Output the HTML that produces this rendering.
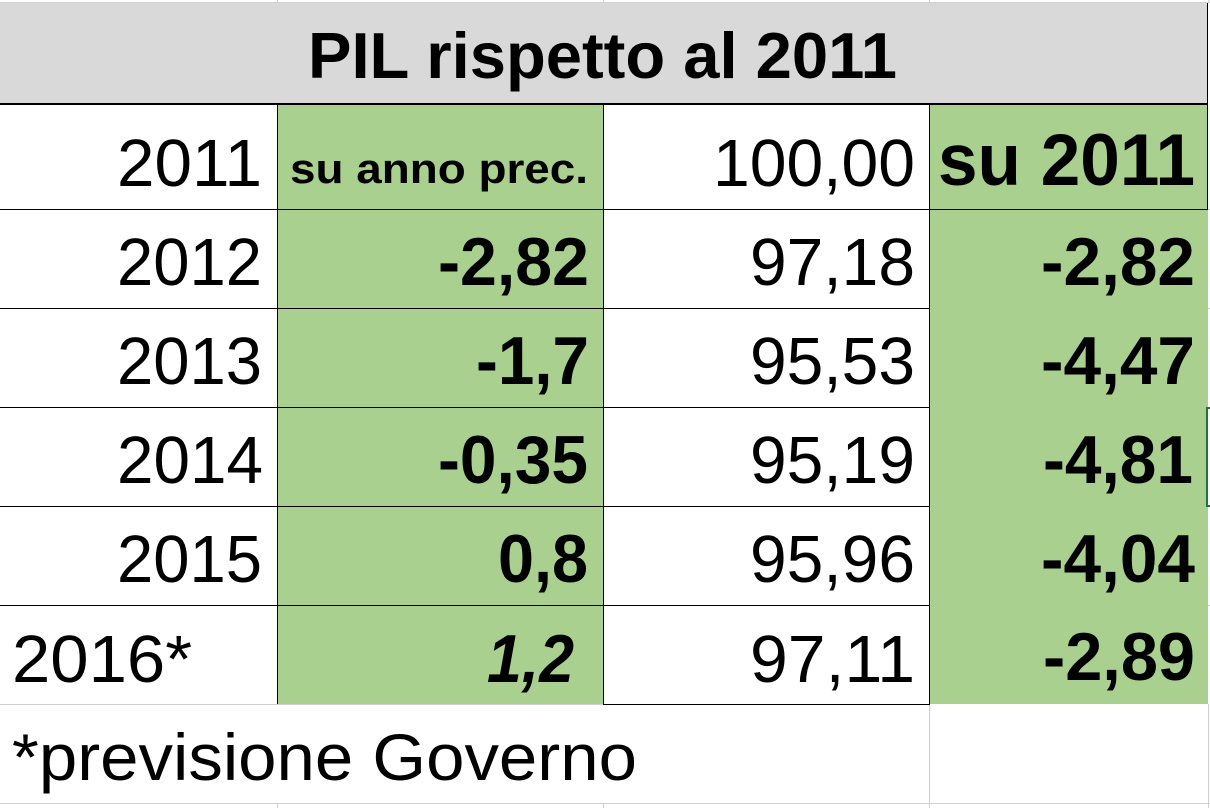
<!DOCTYPE html>
<html>
<head>
<meta charset="utf-8">
<style>
html,body{margin:0;padding:0;background:#fff;}
svg{display:block;}
text{font-family:"Liberation Sans",Arial,sans-serif;fill:#000;}
.r{font-size:67px;}
.b{font-size:68px;font-weight:bold;}
</style>
</head>
<body>
<svg width="1210" height="808" viewBox="0 0 1210 808" xmlns="http://www.w3.org/2000/svg">
  <rect x="0" y="0" width="1210" height="808" fill="#fff"/>
  <!-- top gridline -->
  <rect x="0" y="2" width="1210" height="1" fill="#d0d0d0"/>
  <rect x="277" y="0" width="1" height="2" fill="#d0d0d0"/>
  <rect x="603" y="0" width="1" height="2" fill="#d0d0d0"/>
  <rect x="929" y="0" width="1" height="2" fill="#d0d0d0"/>
  <rect x="1208" y="0" width="1" height="2" fill="#d0d0d0"/>

  <!-- title band -->
  <rect x="0" y="3" width="1208" height="100" fill="#d9d9d9"/>
  <rect x="0" y="103" width="1208" height="2" fill="#000"/>
  <rect x="1207" y="3" width="1" height="102" fill="#000"/>

  <!-- green columns -->
  <rect x="277" y="105" width="326" height="599" fill="#a9d08e"/>
  <rect x="929" y="105" width="279" height="599" fill="#a9d08e"/>

  <!-- right-side gridline stubs -->
  <rect x="1208" y="209" width="2" height="1" fill="#d0d0d0"/>
  <rect x="1208" y="308" width="2" height="1" fill="#d0d0d0"/>
  <rect x="1208" y="605" width="2" height="1" fill="#d0d0d0"/>
  <rect x="1208" y="704" width="1" height="104" fill="#d0d0d0"/>

  <!-- black horizontal borders -->
  <rect x="0" y="209" width="1208" height="1" fill="#000"/>
  <rect x="0" y="308" width="930" height="1" fill="#000"/>
  <rect x="0" y="407" width="930" height="1" fill="#000"/>
  <rect x="0" y="506" width="930" height="1" fill="#000"/>
  <rect x="0" y="605" width="930" height="1" fill="#000"/>
  <rect x="603" y="704" width="327" height="1" fill="#000"/>
  <!-- black vertical borders -->
  <rect x="277" y="105" width="1" height="599" fill="#000"/>
  <rect x="603" y="105" width="1" height="600" fill="#000"/>
  <rect x="929" y="105" width="1" height="600" fill="#000"/>
  <rect x="1207" y="105" width="1" height="105" fill="#000"/>

  <!-- footnote row gridlines -->
  <rect x="0" y="704" width="603" height="1" fill="#d0d0d0"/>
  <rect x="0" y="803" width="1210" height="1" fill="#d0d0d0"/>
  <rect x="929" y="705" width="1" height="103" fill="#d0d0d0"/>
  <rect x="277" y="803" width="1" height="5" fill="#d0d0d0"/>
  <rect x="603" y="803" width="1" height="5" fill="#d0d0d0"/>

  <!-- selection marker -->
  <rect x="1206" y="407" width="2" height="100" fill="#217346"/>
  <rect x="1206" y="407" width="4" height="2" fill="#217346"/>
  <rect x="1206" y="505" width="4" height="2" fill="#217346"/>

  <!-- title -->
  <text x="308" y="78" font-size="65" font-weight="bold" textLength="589" lengthAdjust="spacingAndGlyphs">PIL rispetto al 2011</text>

  <!-- row 2011 -->
  <text class="r" x="117" y="186" textLength="145" lengthAdjust="spacingAndGlyphs">2011</text>
  <text x="290" y="183" font-size="42" font-weight="bold" textLength="298" lengthAdjust="spacingAndGlyphs">su anno prec.</text>
  <text class="r" x="713" y="186" textLength="202" lengthAdjust="spacingAndGlyphs">100,00</text>
  <text x="938" y="185" font-size="73" font-weight="bold" textLength="257" lengthAdjust="spacingAndGlyphs">su 2011</text>

  <!-- row 2012 -->
  <text class="r" x="117" y="285" textLength="145" lengthAdjust="spacingAndGlyphs">2012</text>
  <text class="b" x="438" y="285" textLength="151" lengthAdjust="spacingAndGlyphs">-2,82</text>
  <text class="r" x="750" y="285" textLength="165" lengthAdjust="spacingAndGlyphs">97,18</text>
  <text class="b" x="1041" y="285" textLength="154" lengthAdjust="spacingAndGlyphs">-2,82</text>

  <!-- row 2013 -->
  <text class="r" x="117" y="384" textLength="145" lengthAdjust="spacingAndGlyphs">2013</text>
  <text class="b" x="476" y="384" textLength="113" lengthAdjust="spacingAndGlyphs">-1,7</text>
  <text class="r" x="750" y="384" textLength="165" lengthAdjust="spacingAndGlyphs">95,53</text>
  <text class="b" x="1041" y="384" textLength="154" lengthAdjust="spacingAndGlyphs">-4,47</text>

  <!-- row 2014 -->
  <text class="r" x="117" y="483" textLength="146" lengthAdjust="spacingAndGlyphs">2014</text>
  <text class="b" x="438" y="483" textLength="150" lengthAdjust="spacingAndGlyphs">-0,35</text>
  <text class="r" x="750" y="483" textLength="165" lengthAdjust="spacingAndGlyphs">95,19</text>
  <text class="b" x="1043" y="483" textLength="150" lengthAdjust="spacingAndGlyphs">-4,81</text>

  <!-- row 2015 -->
  <text class="r" x="117" y="582" textLength="145" lengthAdjust="spacingAndGlyphs">2015</text>
  <text class="b" x="498" y="582" textLength="90" lengthAdjust="spacingAndGlyphs">0,8</text>
  <text class="r" x="750" y="582" textLength="165" lengthAdjust="spacingAndGlyphs">95,96</text>
  <text class="b" x="1041" y="582" textLength="154" lengthAdjust="spacingAndGlyphs">-4,04</text>

  <!-- row 2016 -->
  <text class="r" x="12" y="682" textLength="180" lengthAdjust="spacingAndGlyphs">2016*</text>
  <text class="b" x="487" y="682" font-style="italic" textLength="87" lengthAdjust="spacingAndGlyphs">1,2</text>
  <text class="r" x="750" y="682" textLength="165" lengthAdjust="spacingAndGlyphs">97,11</text>
  <text class="b" x="1043" y="680" textLength="152" lengthAdjust="spacingAndGlyphs">-2,89</text>

  <!-- footnote -->
  <text x="12" y="780" font-size="66" textLength="625" lengthAdjust="spacingAndGlyphs">*previsione Governo</text>
</svg>
</body>
</html>
